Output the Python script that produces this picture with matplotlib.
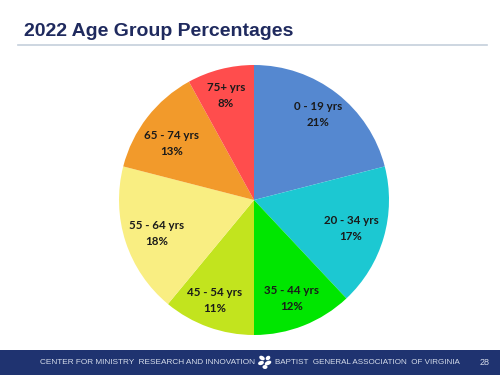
import matplotlib
matplotlib.use('Agg')
import matplotlib.pyplot as plt
from matplotlib.patches import Rectangle, Ellipse

age_groups = ['0 - 19 yrs', '20 - 34 yrs', '35 - 44 yrs', '45 - 54 yrs',
              '55 - 64 yrs', '65 - 74 yrs', '75+ yrs']
percentages = [21, 17, 12, 11, 18, 13, 8]
colors = ['#5588D0', '#1CC8D2', '#00E600', '#C2E41E', '#F9EE82', '#F29A2B', '#FF4D4D']

# label centres in pixels, measured from the top left of the picture
label_x = [318, 351, 292, 215, 157, 172, 226]
label_y = [114.5, 228.5, 298.5, 300.5, 233.5, 143.5, 95.5]

W, H = 500, 375

fig = plt.figure(figsize=(W / 100, H / 100), dpi=100)
ax = fig.add_axes([0, 0, 1, 1])

# Pie
ax.pie(percentages, colors=colors, startangle=90, counterclock=False,
       center=(254, H - 200), radius=135, frame=True)
ax.set_xlim(0, W)
ax.set_ylim(0, H)
ax.set_aspect('equal')
ax.axis('off')

for name, pct, x, y in zip(age_groups, percentages, label_x, label_y):
    ax.text(x, H - y, name + '\n' + str(pct) + '%', ha='center', va='center',
            family='Lato', fontweight='bold', fontsize=8.3, color='#1A1A1A',
            linespacing=1.5)

# Title and rule
ax.text(24, H - 32, '2022 Age Group Percentages', family='Liberation Sans',
        fontweight='bold', fontsize=14, color='#1F2A5E', va='center')
ax.plot([18, 487], [H - 44.5, H - 44.5], color='#C5CFDC', lw=1.2)

# Footer
ax.add_patch(Rectangle((0, 0), W, 25, color='#1F3370', lw=0))
ax.text(40, 12.5, 'CENTER FOR MINISTRY  RESEARCH AND INNOVATION', family='Liberation Sans',
        fontsize=5.95, color='#D5DCEA', va='center')
ax.text(275, 12.5, 'BAPTIST  GENERAL ASSOCIATION  OF VIRGINIA', family='Liberation Sans',
        fontsize=5.8, color='#D5DCEA', va='center')
ax.text(480, 12.5, '28', family='Liberation Sans', fontsize=6.5, color='#D5DCEA',
        va='center')

# Little white leaf logo
for cx, cy, w, h, a in [(262, 17, 6, 4, -30), (268, 17, 5, 4, 40), (261, 12, 6, 4, 20),
                        (268, 12, 7, 4, 25), (265, 8, 5, 4, 0)]:
    ax.add_patch(Ellipse((cx, cy), w, h, angle=a, color='white', lw=0))

fig.savefig('out.png', dpi=100)
